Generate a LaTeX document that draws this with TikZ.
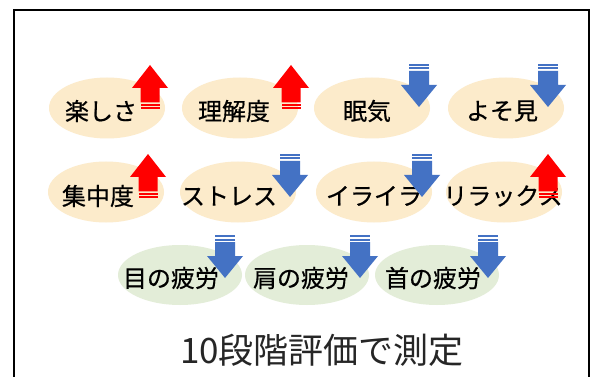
\documentclass[tikz,border=0pt]{standalone}
\usepackage{fontspec}
\newfontfamily\jp{Noto Sans CJK JP}
\newfontfamily\jpheavy[FakeBold=0.6]{Noto Sans CJK JP}
\usetikzlibrary{shapes.geometric}
\definecolor{arrred}{HTML}{FF0000}
\definecolor{arrblue}{HTML}{4472C4}
\definecolor{beige}{HTML}{FCEBCB}
\definecolor{lgreen}{HTML}{E3EDD8}
\tikzset{
  ovalbase/.style={ellipse, inner sep=0pt},
  beigeoval/.style={ovalbase, fill=beige, minimum width=116pt, minimum height=61pt},
  greenoval/.style={ovalbase, fill=lgreen, minimum width=124pt, minimum height=60pt},
  lbl/.style={inner sep=0pt, font=\jpheavy\fontsize{24}{28}\selectfont, text=black},
  titletext/.style={font=\jp\fontsize{35}{40}\selectfont, text=black!85},
  redup/.pic={
    \fill[arrred] (0,0) -- (18,23) -- (9.5,23) -- (9.5,37.5) -- (-9.5,37.5) -- (-9.5,23) -- (-18,23) -- cycle;
    \fill[arrred] (-9.5,39) rectangle (9.5,41);
    \fill[arrred] (-9.5,42.5) rectangle (9.5,44.5);
  },
  bluedown/.pic={
    \fill[arrblue] (-10,0) rectangle (10,2);
    \fill[arrblue] (-10,3.5) rectangle (10,5.5);
    \fill[arrblue] (-10,7) -- (10,7) -- (10,21) -- (18,21) -- (0,43) -- (-18,21) -- (-10,21) -- cycle;
  }
}
\begin{document}
\begin{tikzpicture}[x=1pt,y=-1pt]
\useasboundingbox (0,0) rectangle (592,377);
\fill[white] (0,0) rectangle (592,377);
\draw[line width=1.5pt] (14,400) -- (14,10) -- (589,10) -- (589,400);
% row 1
\node[beigeoval] (e-tanoshisa) at (107,108) {};
\node[beigeoval] (e-rikaido) at (240,108) {};
\node[beigeoval] (e-nemuke) at (372,108) {};
\node[beigeoval] (e-yosomi) at (506,108) {};
\node[lbl] (t-tanoshisa) at (101,111) {楽しさ};
\node[lbl] (t-rikaido) at (234,111) {理解度};
\node[lbl] (t-nemuke) at (367,111) {眠気};
\node[lbl] (t-yosomi) at (502,111) {よそ見};
% row 2
\node[beigeoval] (e-shuchudo) at (106,192) {};
\node[beigeoval] (e-stress) at (238,192) {};
\node[beigeoval] (e-iraira) at (374,192) {};
\node[beigeoval] (e-relax) at (504,192) {};
\node[lbl] (t-shuchudo) at (98,196) {集中度};
\node[lbl] (t-stress) at (229,196) {ストレス};
\node[lbl] (t-iraira) at (374,196) {イライラ};
\node[lbl] (t-relax) at (503,196) {リラックス};
% row 3
\node[greenoval] (e-me) at (180,275) {};
\node[greenoval] (e-kata) at (307,275) {};
\node[greenoval] (e-kubi) at (437,275) {};
\node[lbl] (t-me) at (171,278) {目の疲労};
\node[lbl] (t-kata) at (301,278) {肩の疲労};
\node[lbl] (t-kubi) at (433,278) {首の疲労};
% arrows
\pic at (150,65) {redup};
\pic at (291,65) {redup};
\pic at (419,64) {bluedown};
\pic at (548,64) {bluedown};
\pic at (148,154) {redup};
\pic at (290,154) {bluedown};
\pic at (422,154) {bluedown};
\pic at (548,154) {redup};
\pic at (225,235) {bluedown};
\pic at (360,235) {bluedown};
\pic at (488,235) {bluedown};
% title
\node[titletext] (title) at (322,350) {10段階評価で測定};
\end{tikzpicture}
\end{document}
